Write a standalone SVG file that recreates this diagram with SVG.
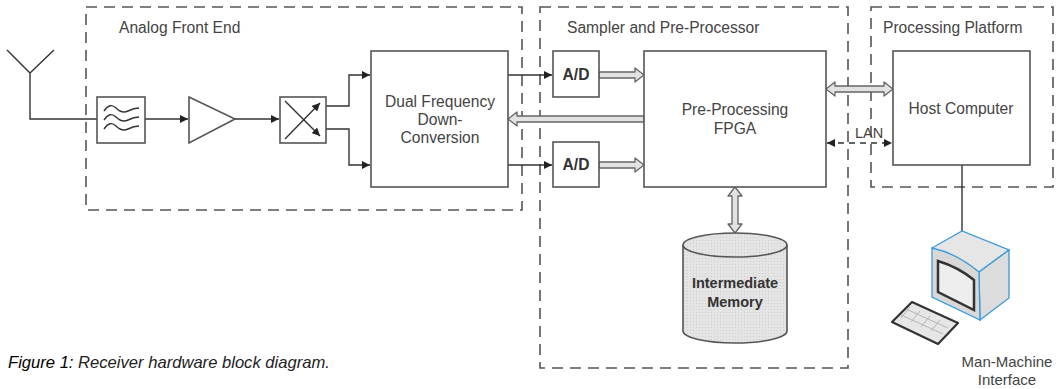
<svg xmlns="http://www.w3.org/2000/svg" width="1060" height="389" viewBox="0 0 1060 389">
  <defs>
    <marker id="tri" viewBox="0 0 10 10" refX="10" refY="5" markerWidth="8" markerHeight="8" markerUnits="userSpaceOnUse" orient="auto">
      <path d="M0,0 L10,5 L0,10 z" fill="#222"/>
    </marker>
    <marker id="triS" viewBox="0 0 10 10" refX="0" refY="5" markerWidth="8" markerHeight="8" markerUnits="userSpaceOnUse" orient="auto">
      <path d="M10,0 L0,5 L10,10 z" fill="#222"/>
    </marker>
    <pattern id="dots" width="3" height="3" patternUnits="userSpaceOnUse">
      <rect width="3" height="3" fill="#e4e4e4"/>
      <rect width="1" height="1" fill="#cfcfcf"/>
    </pattern>
  </defs>
  <style>
    .grp { fill: none; stroke: #555; stroke-width: 1.6; stroke-dasharray: 11 7; }
    .box { fill: #fff; stroke: #555; stroke-width: 1.6; }
    .wire { fill: none; stroke: #333; stroke-width: 1.4; }
    .bus { fill: #e2e2e2; stroke: #666; stroke-width: 1.3; stroke-linejoin: round; }
    .lbl { font-family: "Liberation Sans", Arial, sans-serif; font-size: 15.6px; fill: #444; }
    .mid { text-anchor: middle; }
    .bold { font-weight: bold; fill: #333; }
    .cap { font-family: "Liberation Sans", Arial, sans-serif; font-size: 16.6px; font-style: italic; fill: #222; }
  </style>
  <rect width="1060" height="389" fill="#fff"/>

  <!-- dashed subsystem groups -->
  <g id="analog-front-end">
    <rect class="grp" x="86" y="7" width="436" height="203"/>
    <text class="lbl" x="119" y="33">Analog Front End</text>
  </g>
  <g id="sampler">
    <rect class="grp" x="540" y="7" width="308" height="361"/>
    <text class="lbl" x="567" y="33">Sampler and Pre-Processor</text>
  </g>
  <g id="processing-platform">
    <rect class="grp" x="871" y="7" width="182" height="180"/>
    <text class="lbl" x="883" y="33">Processing Platform</text>
  </g>

  <!-- connectors -->
  <g id="connectors">
    <path class="wire" d="M7,50 L30,73 L54,50 M30,73 L30,119 L97,119"/>
    <path class="wire" d="M145,119 L188,119" marker-end="url(#tri)"/>
    <path class="wire" d="M235,119 L279,119" marker-end="url(#tri)"/>
    <path class="wire" d="M326,106 L349,106 L349,75 L370,75" marker-end="url(#tri)"/>
    <path class="wire" d="M326,129 L349,129 L349,165 L370,165" marker-end="url(#tri)"/>
    <path class="wire" d="M508,75 L552,75" marker-end="url(#tri)"/>
    <path class="wire" d="M508,165 L552,165" marker-end="url(#tri)"/>
    <path class="wire" d="M962,165 L962,233"/>
    <!-- LAN link -->
    <path class="wire" d="M827,143 L892,143" stroke-dasharray="6 5" marker-end="url(#tri)" marker-start="url(#triS)"/>
    <text class="lbl" x="855" y="138" style="font-size:14.5px">LAN</text>
    <!-- buses -->
    <path class="bus" d="M599,72 L635,72 L635,68 L644,75 L635,82 L635,78 L599,78 z"/>
    <path class="bus" d="M599,162 L635,162 L635,158 L644,165 L635,172 L635,168 L599,168 z"/>
    <path class="bus" d="M644,116 L517,116 L517,112 L508,119 L517,126 L517,122 L644,122 z"/>
    <path class="bus" d="M826,89 L835,82 L835,86 L884,86 L884,82 L893,89 L884,96 L884,92 L835,92 L835,96 z"/>
    <path class="bus" d="M735,187 L742,196 L738,196 L738,224 L742,224 L735,233 L728,224 L732,224 L732,196 L728,196 z"/>
  </g>

  <g id="filter">
    <rect class="box" x="97" y="97" width="48" height="46"/>
    <path class="wire" d="M104,111 q6,-9 12,-3 t12,3 t11,-3 M104,120 q6,-9 12,-3 t12,3 t11,-3 M104,129 q6,-9 12,-3 t12,3 t11,-3"/>
  </g>
  <g id="amplifier">
    <path class="box" d="M189,97 L235,119 L189,143 z"/>
  </g>
  <g id="mixer">
    <rect class="box" x="280" y="97" width="46" height="46"/>
    <path class="wire" d="M285,139 L320,103" marker-end="url(#tri)"/>
    <path class="wire" d="M285,101 L320,136" marker-end="url(#tri)"/>
  </g>
  <g id="down-conversion">
    <rect class="box" x="371" y="51" width="137" height="136"/>
    <text class="lbl mid" x="440" y="107">Dual Frequency</text>
    <text class="lbl mid" x="440" y="125">Down-</text>
    <text class="lbl mid" x="440" y="143">Conversion</text>
  </g>
  <g id="adc-1">
    <rect class="box" x="553" y="51" width="46" height="46"/>
    <text class="lbl mid bold" x="576" y="80">A/D</text>
  </g>
  <g id="adc-2">
    <rect class="box" x="553" y="142" width="46" height="45"/>
    <text class="lbl mid bold" x="576" y="170">A/D</text>
  </g>
  <g id="fpga">
    <rect class="box" x="644" y="51" width="182" height="136"/>
    <text class="lbl mid" x="735" y="115">Pre-Processing</text>
    <text class="lbl mid" x="735" y="134">FPGA</text>
  </g>
  <g id="host">
    <rect class="box" x="893" y="51" width="137" height="114"/>
    <text class="lbl mid" x="961" y="114">Host Computer</text>
  </g>
  <g id="memory">
    <path d="M683,245 L683,331 A52,12 0 0 0 787,331 L787,245" fill="url(#dots)" stroke="#555" stroke-width="1.6"/>
    <ellipse cx="735" cy="245" rx="52" ry="12" fill="url(#dots)" stroke="#555" stroke-width="1.6"/>
    <text class="lbl mid bold" x="735" y="288" style="font-size:14.5px">Intermediate</text>
    <text class="lbl mid bold" x="735" y="307" style="font-size:14.5px">Memory</text>
  </g>
  <g id="mmi">
    <!-- keyboard -->
    <path d="M912,302 L958,323 L938,344 L892,322 z" fill="#e6e6e6" stroke="#333" stroke-width="2.2" stroke-linejoin="round"/>
    <path d="M906,309 L948,328 M901,315 L943,334 M910,307 L901,318 M920,311 L911,322 M930,316 L921,327 M940,320 L931,331" stroke="#aaa" stroke-width="0.8" fill="none"/>
    <!-- monitor -->
    <path d="M932,248 L962,231 L1009,250 L979,272 z" fill="#e6e6e6" stroke="#3a9ad9" stroke-width="1.3"/>
    <path d="M979,272 L1009,250 L1009,298 L980,320 z" fill="#dcdcdc" stroke="#3a9ad9" stroke-width="1.3"/>
    <path d="M932,248 Q956,253 979,272 L980,320 L932,297 z" fill="#d8d8d8" stroke="#3a9ad9" stroke-width="1.3"/>
    <path d="M938,261 Q958,267 974,280 L974,310 L938,292 z" fill="#eee" stroke="#333" stroke-width="2.5"/>
    <text class="lbl mid" x="1007" y="367" style="font-size:15px">Man-Machine</text>
    <text class="lbl mid" x="1007" y="385" style="font-size:15px">Interface</text>
  </g>

  <text class="cap" x="8" y="368"><tspan fill="#000">Figure 1:</tspan> Receiver hardware block diagram.</text>
</svg>
